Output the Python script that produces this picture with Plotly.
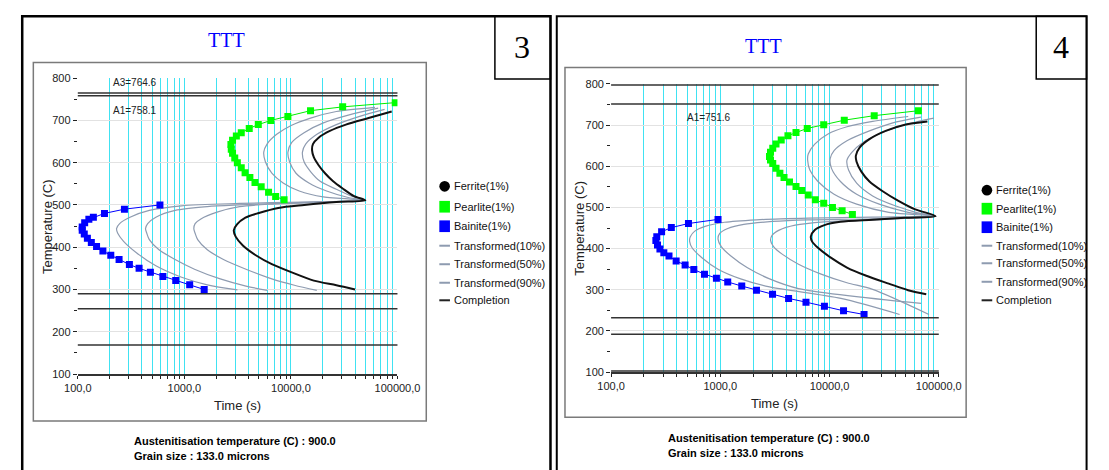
import plotly.graph_objects as go

W, H = 1109, 470

# ---------------- Panel 3 ----------------
A3_3 = 764.6
A1_3 = 758.1
hlines_3 = [290.0, 254.5, 168.5]

bainite_t_3 = [590, 274, 178, 140, 127, 116, 110, 110, 115, 123, 134, 150, 172, 204, 244,
               305, 376, 480, 629, 830, 1122, 1535]
bainite_T_3 = [500, 490, 480, 471, 466, 458, 448, 440, 431, 421, 411, 402, 391, 381, 371,
               359, 350, 341, 331, 321, 311, 300]

pearlite_t_3 = [95300, 30600, 15280, 9370, 6486, 4943, 4064, 3420, 3076, 2833, 2735, 2756,
                2833, 2972, 3143, 3420, 3715, 4120, 4600, 5260, 6170, 7190, 8630]
pearlite_T_3 = [742, 732, 723, 709, 700, 690, 681, 671, 663, 653, 643, 632,
                622, 611, 600, 588, 576, 565, 553, 543, 530, 520, 512]

tr10_t_3 = [61480, 26670, 15280, 10050, 7350, 5970, 5562, 5760, 6620, 8450, 11970, 20170,
            49930, 13290, 3296, 942, 469, 309, 247, 231, 237, 269, 355, 540, 942, 1643, 3150]
tr10_T_3 = [731, 721, 705.5, 688, 667, 644, 625, 602, 575, 552, 533, 519,
            511, 507, 503.5, 498, 487, 471, 456, 444, 433, 414, 387, 356, 329, 311, 299]

tr50_t_3 = [65900, 35240, 20170, 13290, 10190, 9380, 9710, 11160, 14760, 21630, 35240,
            49930, 13290, 3296, 1643, 819, 540, 453, 432, 444, 469, 578, 819, 1245, 2172,
            3790, 6000]
tr50_T_3 = [729, 713, 694, 671, 648, 625, 602, 575, 552, 533, 517,
            511, 506, 500, 496, 487, 471, 456, 444, 433, 418, 394, 371, 348, 325,
            308, 298]

tr90_t_3 = [75800, 43430, 26670, 17550, 13760, 12830, 13290, 15280, 18820, 26670, 37770,
            49930, 18820, 6620, 3296, 2027, 1429, 1262, 1227, 1262, 1334, 1643, 2328, 3790,
            6620, 10780, 17500]
tr90_T_3 = [726, 709, 690, 667, 644, 625, 602, 579, 556, 537, 520,
            511, 506, 502, 496, 483, 467, 456, 444, 433, 418, 394, 371, 348,
            325, 310, 298]

compl_t_3 = [88300, 53600, 32800, 23200, 18200, 16100, 15800, 16400, 18200, 20900, 24900,
             30600, 39100, 49900, 26700, 13300, 7600, 5010, 3740, 3120, 2910, 3030, 3540,
             4680, 6620, 10060, 16400, 26700, 40000]
compl_T_3 = [721, 705.5, 690, 675, 659, 644, 629, 613, 594, 575, 556,
             539, 521, 511, 507, 500, 493, 481, 470, 454, 440, 425, 404,
             381, 360, 341, 321, 310, 300]

# ---------------- Panel 4 ----------------
A3_4 = 797.6
A1_4 = 751.6
hlines_4 = [232.0, 192.0, 103.0]

bainite_t_4 = [953, 511, 356, 290, 262, 257, 266, 280, 304, 339, 394, 476, 572, 716, 921,
               1169, 1571, 2142, 3006, 4217, 6085, 8975, 13430, 20700]
bainite_T_4 = [471, 461, 451, 441, 429, 420, 409, 399, 390, 382, 370, 360, 349, 338, 328,
               319, 309, 299, 289, 279, 270, 260, 249, 240]

pearlite_t_4 = [65000, 25640, 13640, 8840, 6250, 4930, 4160, 3610, 3235, 3020, 2880, 2820,
                2880, 3020, 3235, 3510, 3830, 4300, 4930, 5570, 6380, 7410, 8840, 10630,
                13030, 16180]
pearlite_T_4 = [735, 723, 712, 701, 692, 682, 674, 664, 654, 644, 634, 624,
                615, 607, 595, 583, 573, 562, 551, 541, 530, 519, 510, 500,
                492, 483]

tr10_t_4 = [52500, 24800, 14430, 9600, 7320, 6380, 6300, 6600, 7830, 11000, 17700, 34900,
            93500, 24800, 6380, 2153, 1091, 726, 584, 531, 524, 553, 678, 953, 1535, 2825,
            12700, 43800]
tr10_T_4 = [721, 709, 696, 678, 654, 630, 615, 591, 563, 532, 508, 488,
            479, 476.5, 474, 470, 464, 454, 442.5, 429, 417, 401.5, 378, 350, 326.5, 307,
            279, 240]

tr50_t_4 = [68700, 37300, 23200, 14430, 11000, 10130, 10420, 12590, 17700, 28500, 52500,
            93500, 24800, 6380, 3010, 1640, 1170, 987, 953, 1020, 1250, 1757, 2825, 5200,
            68900]
tr50_T_4 = [719.5, 705, 686, 662, 638, 618.5, 595, 563, 532, 508, 488,
            479, 472.5, 470, 466, 459, 449, 437, 423, 405, 382, 354, 326.5, 303,
            267]

tr90_t_4 = [90200, 48900, 30400, 20200, 16000, 14430, 14930, 17700, 24800, 39900, 64100,
            93500, 24800, 8970, 4850, 3460, 2985, 2885, 3070, 3710, 5200, 8370, 14430,
            24800, 81300]
tr90_T_4 = [717, 701, 682, 658, 634, 615, 591, 559, 528, 504, 487,
            479, 470, 465, 457, 445, 433, 420, 405, 386, 362, 338, 317,
            301, 240]

compl_t_4 = [78700, 48900, 32600, 23200, 18900, 17420, 17670, 19550, 23200, 30400, 42700,
             60000, 93500, 48900, 24800, 12590, 8970, 7320, 6740, 6930, 7830, 10270, 14430,
             21700, 34800, 52400, 76800]
compl_T_4 = [709, 701, 686, 666, 646, 626, 611, 587, 563, 540, 516,
             496, 479, 475, 470, 465, 457, 445, 429, 417, 402, 378, 354,
             334, 315, 299, 289]

# ---------------- shared text ----------------
aust_temp = 900.0
grain_size = 133.0
legend_names = ["Ferrite(1%)", "Pearlite(1%)", "Bainite(1%)", "Transformed(10%)",
                "Transformed(50%)", "Transformed(90%)", "Completion"]
decade_ticks = [100, 1000, 10000, 100000]

GRAY = "#8e9bb0"
CYAN = "#40e2f2"
FONT = "Liberation Sans, Arial, sans-serif"
SERIF = "Liberation Serif, Times New Roman, serif"
NARROW = "Liberation Sans Narrow, Arial Narrow, Liberation Sans, sans-serif"


def px(x):
    return x / W


def py(y):
    return 1 - y / H


fig = go.Figure()

panels = [
    dict(xa="x", ya="y", xd=(66.0, 396.7), yd=(74.0, 377.7),
         bt=bainite_t_3, bT=bainite_T_3, pt=pearlite_t_3, pT=pearlite_T_3,
         c10=(tr10_t_3, tr10_T_3), c50=(tr50_t_3, tr50_T_3), c90=(tr90_t_3, tr90_T_3),
         cc=(compl_t_3, compl_T_3)),
    dict(xa="x2", ya="y2", xd=(617.7, 956.7), yd=(80.0, 375.7),
         bt=bainite_t_4, bT=bainite_T_4, pt=pearlite_t_4, pT=pearlite_T_4,
         c10=(tr10_t_4, tr10_T_4), c50=(tr50_t_4, tr50_T_4), c90=(tr90_t_4, tr90_T_4),
         cc=(compl_t_4, compl_T_4)),
]

for p in panels:
    for key in ("c10", "c50", "c90"):
        t, T = p[key]
        fig.add_trace(go.Scatter(x=t, y=T, mode="lines", xaxis=p["xa"], yaxis=p["ya"],
                                 line=dict(color=GRAY, width=1.2, shape="spline", smoothing=0.8),
                                 showlegend=False, hoverinfo="skip"))
    t, T = p["cc"]
    fig.add_trace(go.Scatter(x=t, y=T, mode="lines", xaxis=p["xa"], yaxis=p["ya"],
                             line=dict(color="#111111", width=2, shape="spline", smoothing=0.8),
                             showlegend=False, hoverinfo="skip"))
    fig.add_trace(go.Scatter(x=p["pt"], y=p["pT"], mode="lines+markers",
                             xaxis=p["xa"], yaxis=p["ya"],
                             line=dict(color="#00ee00", width=1),
                             marker=dict(symbol="square", size=7, color="#00ff00"),
                             showlegend=False, hoverinfo="skip"))
    fig.add_trace(go.Scatter(x=p["bt"], y=p["bT"], mode="lines+markers",
                             xaxis=p["xa"], yaxis=p["ya"],
                             line=dict(color="#0000ff", width=1),
                             marker=dict(symbol="square", size=7, color="#0000ff"),
                             showlegend=False, hoverinfo="skip"))

# log time axis: grid at every 1..9 x 10^n, labels only on decades
tickvals = [k * 10 ** e for e in (2, 3, 4) for k in range(1, 10)] + [100000]
ticktext = [(f"{v:.1f}".replace(".", ",") if v in decade_ticks else "") for v in tickvals]

xcommon = dict(type="log", range=[2, 5], tickvals=tickvals, ticktext=ticktext,
               showgrid=True, gridcolor=CYAN, gridwidth=1, zeroline=False,
               ticks="outside", ticklen=3, tickcolor="#222", tickwidth=1,
               showline=True, linecolor="#333", linewidth=1.5,
               tickfont=dict(family=FONT, size=11, color="#222"))
ycommon = dict(range=[100, 800], dtick=100, showgrid=True, gridcolor="#e2e2e2",
               gridwidth=1, zeroline=False, ticks="outside", ticklen=4, tickcolor="#222",
               showline=False, tickfont=dict(family=FONT, size=11, color="#222"),
               minor=dict(dtick=50, ticks="outside", ticklen=3, tickcolor="#222",
                          showgrid=False))

p3, p4 = panels
fig.update_layout(
    xaxis=dict(domain=[px(p3["xd"][0]), px(p3["xd"][1])], anchor="y", **xcommon),
    yaxis=dict(domain=[py(p3["yd"][1]), py(p3["yd"][0])], anchor="x", **ycommon),
    xaxis2=dict(domain=[px(p4["xd"][0]), px(p4["xd"][1])], anchor="y2", **xcommon),
    yaxis2=dict(domain=[py(p4["yd"][1]), py(p4["yd"][0])], anchor="x2", **ycommon),
)

shapes = []
annotations = []

# critical temperature lines
for xa, ya, vals in (("x", "y", [A3_3, A1_3] + hlines_3), ("x2", "y2", [A3_4, A1_4] + hlines_4)):
    for v in vals:
        shapes.append(dict(type="line", xref=f"{xa} domain", x0=0, x1=1, yref=ya, y0=v, y1=v,
                           line=dict(color="#333333", width=1.5)))

annotations.append(dict(text=f"A3={A3_3}", xref="x domain", x=(100 - 66) / 330.7, yref="y",
                        y=A3_3, xanchor="left", yanchor="bottom", yshift=3, showarrow=False,
                        font=dict(family=FONT, size=10, color="#222")))
annotations.append(dict(text=f"A1={A1_3}", xref="x domain", x=(100 - 66) / 330.7, yref="y",
                        y=A1_3, xanchor="left", yanchor="top", yshift=-7, showarrow=False,
                        font=dict(family=FONT, size=10, color="#222")))
annotations.append(dict(text=f"A1={A1_4}", xref="x2 domain", x=(694 - 617.7) / 339, yref="y2",
                        y=A1_4, xanchor="left", yanchor="top", yshift=-6, showarrow=False,
                        font=dict(family=FONT, size=10, color="#222")))

# outer panel boxes, number boxes, inner chart frames
shapes += [
    dict(type="rect", xref="paper", yref="paper", x0=px(8.5), x1=px(555), y0=py(480), y1=py(10.5),
         line=dict(color="black", width=2.5)),
    dict(type="rect", xref="paper", yref="paper", x0=px(561.5), x1=px(1109.6), y0=py(480), y1=py(10.5),
         line=dict(color="black", width=2)),
    dict(type="rect", xref="paper", yref="paper", x0=px(497.5), x1=px(555), y0=py(75), y1=py(10.5),
         line=dict(color="black", width=1.5)),
    dict(type="rect", xref="paper", yref="paper", x0=px(1057.5), x1=px(1109.6), y0=py(75), y1=py(10.5),
         line=dict(color="black", width=1.5)),
    dict(type="rect", xref="paper", yref="paper", x0=px(20), x1=px(426.5), y0=py(426), y1=py(58),
         line=dict(color="#7a7a7a", width=1.5)),
    dict(type="rect", xref="paper", yref="paper", x0=px(570), x1=px(985), y0=py(422), y1=py(63),
         line=dict(color="#7a7a7a", width=1.5)),
]


def ann(text, x, y, size, family=FONT, color="#222", xanchor="center", angle=0, bold=False):
    annotations.append(dict(text=f"<b>{text}</b>" if bold else text, xref="paper", yref="paper",
                            x=px(x), y=py(y), xanchor=xanchor, yanchor="middle",
                            showarrow=False, textangle=angle,
                            font=dict(family=family, size=size, color=color)))


# titles and panel numbers
ann("TTT", 220, 35, 20, family=SERIF, color="#0000ff")
ann("TTT", 775, 41, 20, family=SERIF, color="#0000ff")
ann("3", 526, 42, 32, family=SERIF, color="black")
ann("4", 1083, 42, 32, family=SERIF, color="black")

# axis titles
ann("Time (s)", 231.5, 410, 13)
ann("Time (s)", 787, 408, 13)
ann("Temperature (C)", 34, 226, 13, angle=-90)
ann("Temperature (C)", 585, 228, 13, angle=-90)

# footers
for x0, y0 in ((122, 446), (675, 443)):
    ann(f"Austenitisation temperature (C) : {aust_temp:.1f}", x0, y0, 11, family=NARROW,
        color="black", xanchor="left", bold=True)
    ann(f"Grain size : {grain_size:.1f} microns", x0, y0 + 16, 11, family=NARROW,
        color="black", xanchor="left", bold=True)

# legends
legend_styles = [("circle", "black"), ("square", "#00ff00"), ("square", "#0000ff"),
                 ("line", GRAY), ("line", GRAY), ("line", GRAY), ("line", "#222222")]
for sx, rows in ((440, [185, 206, 226, 246, 265, 284, 302]),
                 (1001, [189, 208, 227, 246, 264, 283, 302])):
    for name, (kind, col), ry in zip(legend_names, legend_styles, rows):
        if kind == "circle":
            shapes.append(dict(type="circle", xref="paper", yref="paper", x0=px(sx), x1=px(sx + 11),
                               y0=py(ry + 5.5), y1=py(ry - 5.5), fillcolor=col, line=dict(width=0)))
        elif kind == "square":
            shapes.append(dict(type="rect", xref="paper", yref="paper", x0=px(sx), x1=px(sx + 11),
                               y0=py(ry + 6), y1=py(ry - 6), fillcolor=col, line=dict(width=0)))
        else:
            shapes.append(dict(type="line", xref="paper", yref="paper", x0=px(sx), x1=px(sx + 11),
                               y0=py(ry), y1=py(ry), line=dict(color=col, width=2)))
        ann(name, sx + 13, ry, 11, color="#111", xanchor="left")

fig.update_layout(
    width=W, height=H, margin=dict(l=0, r=0, t=0, b=0),
    paper_bgcolor="white", plot_bgcolor="white",
    showlegend=False, shapes=shapes, annotations=annotations,
)

fig.write_html("out.html")
